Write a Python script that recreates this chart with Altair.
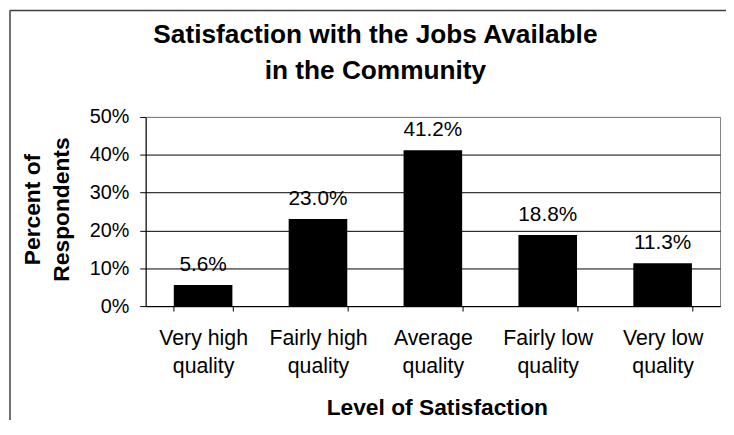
import altair as alt
import pandas as pd

categories = ["Very high\nquality", "Fairly high\nquality", "Average\nquality",
              "Fairly low\nquality", "Very low\nquality"]
percents = [5.6, 23.0, 41.2, 18.8, 11.3]
y_ticks = [0, 10, 20, 30, 40, 50]

df = pd.DataFrame({"cat": categories, "pct": percents})

FONT = "Liberation Sans"

base = alt.Chart(df)

x_enc = alt.X(
    "cat:N", sort=categories,
    scale=alt.Scale(paddingInner=0.49, paddingOuter=0.245),
    axis=alt.Axis(
        title="Level of Satisfaction", titleFontSize=23, titleFontWeight="bold",
        titleBaseline="alphabetic", titleY=109, titleX=294,
        labelExpr="split(datum.label, '\\n')", labelAngle=0,
        labelFontSize=21.5, labelLineHeight=28, labelBaseline="alphabetic",
        labelPadding=34, tickSize=5, tickBand="extent",
        tickColor="black", domainColor="black", grid=False,
    ),
)
y_enc = alt.Y(
    "pct:Q",
    scale=alt.Scale(domain=[0, 50], nice=False),
    axis=alt.Axis(
        values=y_ticks, labelExpr="datum.value + '%'", labelOverlap=False,
        title=["Percent of", "Respondents"], titleFontSize=23, titleFontWeight="bold",
        titleLineHeight=29, titleBaseline="alphabetic", titleAngle=270,
        titleX=-107, titleY=93, titleAlign="center",
        labelFontSize=20, labelPadding=11, tickSize=6,
        tickColor="black", domainColor="black",
        grid=True,
        gridColor=alt.condition("datum.value == 50", alt.value("#808080"), alt.value("black")),
        gridWidth=1,
    ),
)

bars = base.mark_bar(color="black").encode(x=x_enc, y=y_enc)

labels = base.transform_calculate(
    lab="format(datum.pct, '.1f') + '%'"
).mark_text(fontSize=21, baseline="alphabetic", dy=-14, color="black", font=FONT).encode(
    x=x_enc, y=y_enc, text="lab:N"
)

frame_data = alt.Data(values=[{}])
top_line = alt.Chart(frame_data).mark_rule(color="#404040", strokeWidth=1.5).encode(
    x=alt.value(-137), x2=alt.value(586), y=alt.value(-107.5)
)
left_line = alt.Chart(frame_data).mark_rule(color="#404040", strokeWidth=1.5).encode(
    x=alt.value(-137), y=alt.value(-107.5), y2=alt.value(320)
)

chart = alt.layer(top_line, left_line, bars, labels).properties(
    width=580, height=191,
    autosize=alt.AutoSizeParams(type="none"),
    padding={"left": 139, "top": 108, "right": 6, "bottom": 113},
    title=alt.TitleParams(
        ["Satisfaction with the Jobs Available", "in the Community"],
        fontSize=26.5, fontWeight="bold", lineHeight=36, font=FONT, color="black",
        anchor="middle", frame="group", dx=-58, dy=79,
    ),
).configure(
    font=FONT,
).configure_axis(
    labelFont=FONT, titleFont=FONT, labelColor="black", titleColor="black",
).configure_view(
    stroke="#808080", strokeWidth=1,
)

chart.save("out.html", embed_options={"renderer": "svg", "actions": False})
